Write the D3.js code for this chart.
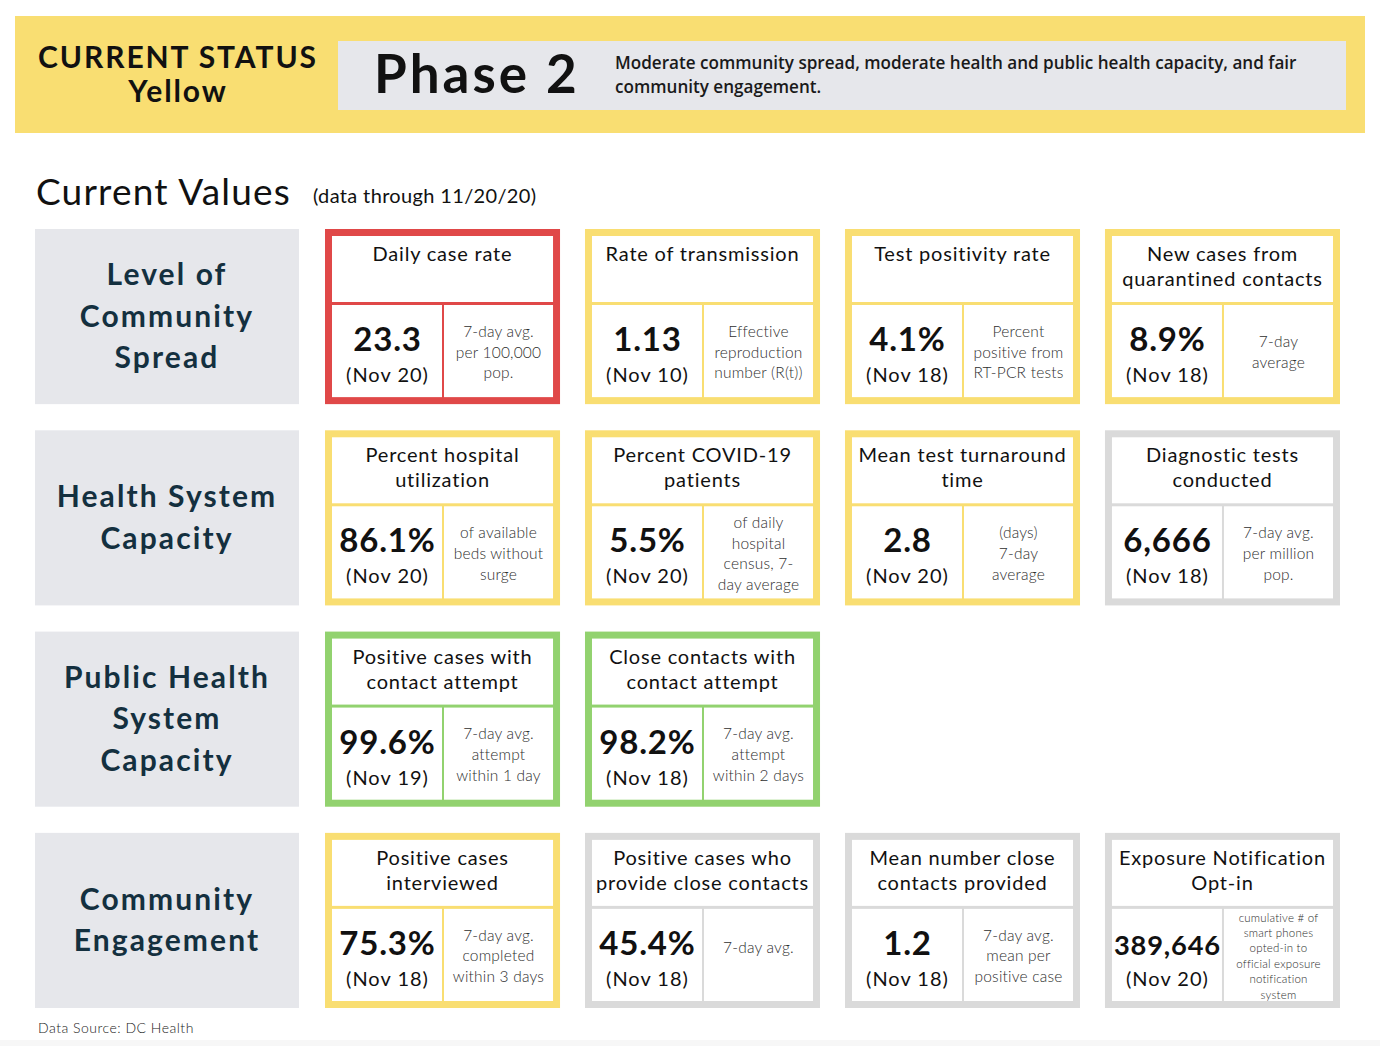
<!DOCTYPE html>
<html>
<head>
<meta charset="utf-8">
<script src="https://cdn.jsdelivr.net/npm/d3@7"></script>
<style>
  html, body { margin: 0; padding: 0; background: #ffffff; }
  svg { display: block; font-family: Lato, "Open Sans", sans-serif; }
</style>
</head>
<body>
<svg id="chart" width="1380" height="1046"></svg>
<script>
// ---------------- DATA ----------------
const statusLabel = ["CURRENT STATUS", "Yellow"];
const phaseLabel = "Phase 2";
const phaseDescription = ["Moderate community spread, moderate health and public health capacity, and fair", "community engagement."];
const sectionTitle = "Current Values";
const sectionSubtitle = "(data through 11/20/20)";
const sourceNote = "Data Source: DC Health";

const categories = [
  "Level of\nCommunity\nSpread",
  "Health System\nCapacity",
  "Public Health\nSystem\nCapacity",
  "Community\nEngagement"
];

const metricRow = [0, 0, 0, 0, 1, 1, 1, 1, 2, 2, 3, 3, 3, 3];
const metricCol = [0, 1, 2, 3, 0, 1, 2, 3, 0, 1, 0, 1, 2, 3];
const metricTitles = [
  "Daily case rate",
  "Rate of transmission",
  "Test positivity rate",
  "New cases from\nquarantined contacts",
  "Percent hospital\nutilization",
  "Percent COVID-19\npatients",
  "Mean test turnaround\ntime",
  "Diagnostic tests\nconducted",
  "Positive cases with\ncontact attempt",
  "Close contacts with\ncontact attempt",
  "Positive cases\ninterviewed",
  "Positive cases who\nprovide close contacts",
  "Mean number close\ncontacts provided",
  "Exposure Notification\nOpt-in"
];
const metricValues = ["23.3", "1.13", "4.1%", "8.9%", "86.1%", "5.5%", "2.8", "6,666", "99.6%", "98.2%", "75.3%", "45.4%", "1.2", "389,646"];
const metricDates = ["(Nov 20)", "(Nov 10)", "(Nov 18)", "(Nov 18)", "(Nov 20)", "(Nov 20)", "(Nov 20)", "(Nov 18)", "(Nov 19)", "(Nov 18)", "(Nov 18)", "(Nov 18)", "(Nov 18)", "(Nov 20)"];
const metricNotes = [
  "7-day avg.\nper 100,000\npop.",
  "Effective\nreproduction\nnumber (R(t))",
  "Percent\npositive from\nRT-PCR tests",
  "7-day\naverage",
  "of available\nbeds without\nsurge",
  "of daily\nhospital\ncensus, 7-\nday average",
  "(days)\n7-day\naverage",
  "7-day avg.\nper million\npop.",
  "7-day avg.\nattempt\nwithin 1 day",
  "7-day avg.\nattempt\nwithin 2 days",
  "7-day avg.\ncompleted\nwithin 3 days",
  "7-day avg.",
  "7-day avg.\nmean per\npositive case",
  "cumulative # of\nsmart phones\nopted-in to\nofficial exposure\nnotification\nsystem"
];
const metricStatus = ["red", "yellow", "yellow", "yellow", "yellow", "yellow", "yellow", "gray", "green", "green", "yellow", "gray", "gray", "gray"];

// ---------------- STYLE ----------------
const statusColor = d3.scaleOrdinal()
  .domain(["red", "yellow", "green", "gray"])
  .range(["#e04848", "#f9de72", "#92d26f", "#dadada"]);
const yellowBand = "#f9de72";
const panelGray = "#e6e7eb";
const navy = "#14303f";

const svg = d3.select("#chart");

// ---------------- HEADER ----------------
svg.append("rect").attr("x", 15).attr("y", 16).attr("width", 1350).attr("height", 117).attr("fill", yellowBand);
svg.append("rect").attr("x", 338).attr("y", 41).attr("width", 1008).attr("height", 69).attr("fill", panelGray);

svg.append("g").selectAll("text").data(statusLabel).join("text")
  .attr("x", 178).attr("y", (d, i) => 68 + i * 34)
  .attr("text-anchor", "middle")
  .attr("font-size", 30).attr("font-weight", 700).attr("letter-spacing", 1.9)
  .attr("fill", "#111").text(d => d);

svg.append("text").attr("x", 374).attr("y", 93)
  .attr("font-size", 53).attr("font-weight", 700).attr("letter-spacing", 3)
  .attr("fill", "#111").text(phaseLabel);

svg.append("g").selectAll("text").data(phaseDescription).join("text")
  .attr("x", 615).attr("y", (d, i) => 69 + i * 24)
  .attr("font-family", "'Open Sans', Lato, sans-serif")
  .attr("font-size", 17.1).attr("font-weight", 600).attr("fill", "#1a1a1a")
  .text(d => d);

svg.append("text").attr("x", 36).attr("y", 205)
  .attr("font-size", 37).attr("font-weight", 400).attr("letter-spacing", 1.2)
  .attr("fill", "#111").text(sectionTitle);
svg.append("text").attr("x", 313).attr("y", 203)
  .attr("font-size", 20).attr("font-weight", 400).attr("letter-spacing", 0.35)
  .attr("fill", "#111").text(sectionSubtitle);

// ---------------- GRID SCALES ----------------
const rowScale = d3.scaleBand().domain(d3.range(categories.length)).range([229, 1008]).paddingInner(0.13);
const colScale = d3.scaleBand().domain(d3.range(4)).range([325, 1340]).paddingInner(0.096);

// category panels
const cat = svg.append("g").selectAll("g").data(categories).join("g")
  .attr("transform", (d, i) => `translate(35,${rowScale(i)})`);
cat.append("rect").attr("width", 264).attr("height", rowScale.bandwidth()).attr("fill", panelGray);
cat.each(function(d) {
  const lines = d.split("\n");
  const g = d3.select(this);
  const cy = rowScale.bandwidth() / 2;
  const lh = 41.5;
  g.selectAll("text").data(lines).join("text")
    .attr("x", 132)
    .attr("y", (l, j) => cy + (j - (lines.length - 1) / 2) * lh + 10)
    .attr("text-anchor", "middle")
    .attr("font-size", 30).attr("font-weight", 700).attr("letter-spacing", 2.1)
    .attr("fill", navy).text(l => l);
});

// ---------------- CARDS ----------------
const metrics = metricTitles.map((t, i) => ({
  title: t, value: metricValues[i], date: metricDates[i], note: metricNotes[i],
  status: metricStatus[i], row: metricRow[i], col: metricCol[i]
}));

const W = colScale.bandwidth();
const H = rowScale.bandwidth();
const B = 7;            // border width
const divY = 73;        // top of horizontal divider
const divH = 3;
const vx = 117;         // vertical divider x
const vw = 2;

const card = svg.append("g").selectAll("g").data(metrics).join("g")
  .attr("transform", d => `translate(${colScale(d.col)},${rowScale(d.row)})`);

card.append("rect").attr("width", W).attr("height", H).attr("fill", d => statusColor(d.status));
card.append("rect").attr("x", B).attr("y", B).attr("width", W - 2 * B).attr("height", divY - B).attr("fill", "#fff");
card.append("rect").attr("x", B).attr("y", divY + divH).attr("width", vx - B).attr("height", H - B - divY - divH).attr("fill", "#fff");
card.append("rect").attr("x", vx + vw).attr("y", divY + divH).attr("width", W - B - vx - vw).attr("height", H - B - divY - divH).attr("fill", "#fff");

card.each(function(d) {
  const g = d3.select(this);
  // title
  const tl = d.title.split("\n");
  g.append("g").selectAll("text").data(tl).join("text")
    .attr("x", W / 2).attr("y", (l, j) => 32 + j * 25)
    .attr("text-anchor", "middle")
    .attr("font-size", 20).attr("font-weight", 400).attr("letter-spacing", 0.8)
    .attr("fill", "#111").text(l => l);
  // value
  const cx = (B + vx) / 2 + 0.5;
  const vt = g.append("text").attr("x", cx).attr("y", 122)
    .attr("text-anchor", "middle")
    .attr("font-size", 33).attr("font-weight", 700).attr("letter-spacing", 0.8)
    .attr("fill", "#111").text(d.value);
  const maxW = vx - B - 4;
  const len = vt.node().getComputedTextLength();
  if (len > maxW) vt.attr("font-size", 33 * maxW / len);
  g.append("text").attr("x", cx).attr("y", 153)
    .attr("text-anchor", "middle")
    .attr("font-size", 20).attr("font-weight", 400).attr("letter-spacing", 1)
    .attr("fill", "#111").text(d.date);
  // note
  const nl = d.note.split("\n");
  const small = nl.length > 4;
  const fs = small ? 11.5 : 15.5;
  const lh = small ? 15.4 : 20.7;
  const nx = (vx + vw + W - B) / 2;
  const ncy = nl.length === 1 ? 115 : 123;
  g.append("g").selectAll("text").data(nl).join("text")
    .attr("x", nx)
    .attr("y", (l, j) => ncy + (j - (nl.length - 1) / 2) * lh + fs * 0.36)
    .attr("text-anchor", "middle")
    .attr("font-size", fs).attr("font-weight", 300).attr("letter-spacing", 0.2)
    .attr("fill", "#2e2e2e").text(l => l);
});

// ---------------- FOOTER ----------------
svg.append("text").attr("x", 38).attr("y", 1033)
  .attr("font-size", 14).attr("font-weight", 300).attr("letter-spacing", 0.5)
  .attr("fill", "#222").text(sourceNote);
svg.append("rect").attr("x", 0).attr("y", 1040).attr("width", 1380).attr("height", 6).attr("fill", "#f7f7f7");
</script>
</body>
</html>
